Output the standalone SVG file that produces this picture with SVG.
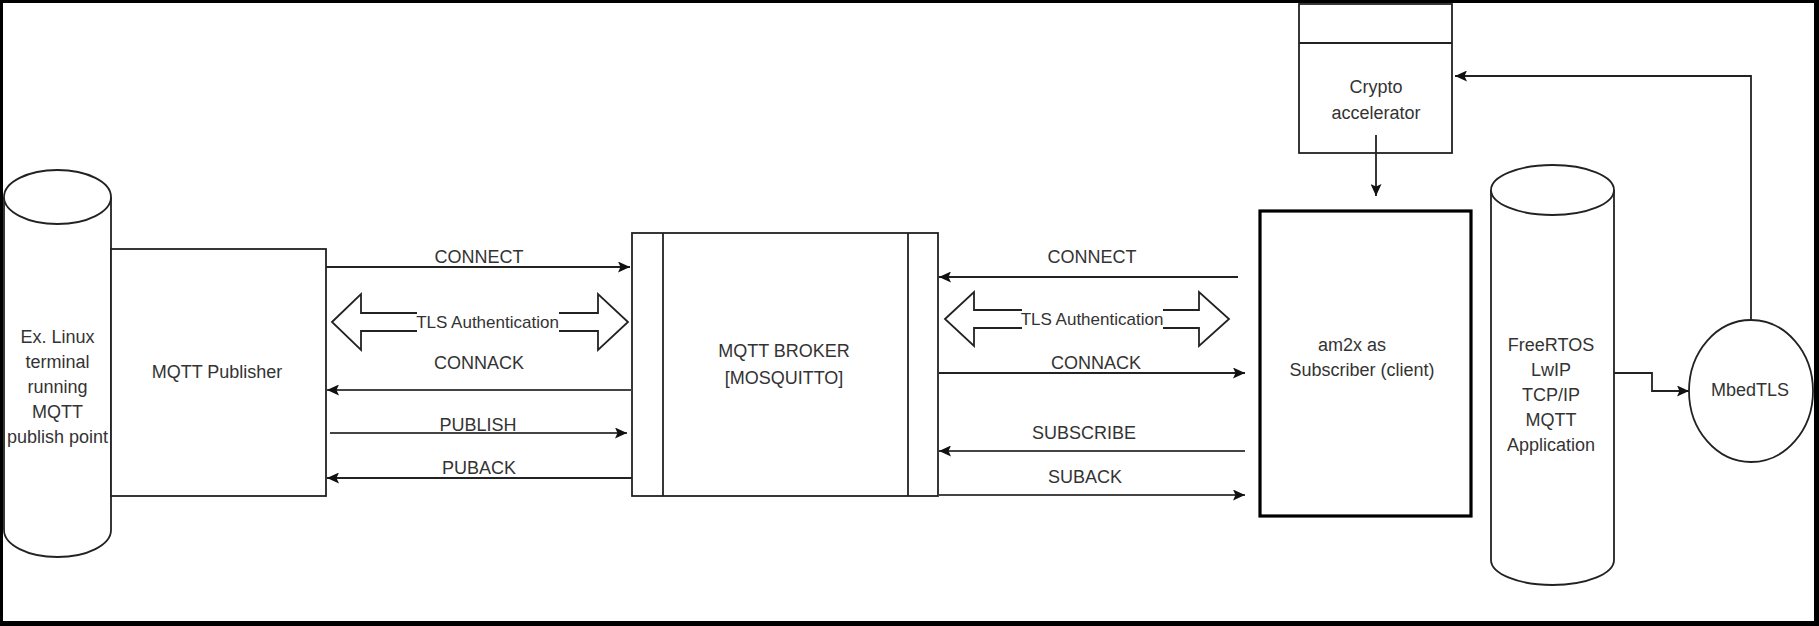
<svg xmlns="http://www.w3.org/2000/svg" width="1819" height="626" viewBox="0 0 1819 626">
<defs>
<style>
.shape{fill:#fff;stroke:#222;stroke-width:1.8}
.thick{fill:#fff;stroke:#000;stroke-width:3.2}
.t{font-family:"Liberation Sans",Arial,Helvetica,sans-serif;font-size:18px;fill:#333;text-anchor:middle}
.ts{font-size:17px}
.c{fill:none;stroke:#222;stroke-width:1.8}
.g{fill:none;stroke:#444;stroke-width:2.2}
</style>
<marker id="ah" viewBox="0 0 12 11" refX="12" refY="5.5" markerWidth="12" markerHeight="11" markerUnits="userSpaceOnUse" orient="auto">
<path d="M0,0 L12,5.5 L0,11 L2.5,5.5 z" fill="#111"/>
</marker>
</defs>
<rect width="1819" height="626" fill="#fff"/>

<g id="linux-terminal">
<path class="shape" d="M4,197 L4,530 A53.5,27 0 0 0 111,530 L111,197"/>
<ellipse class="shape" cx="57.5" cy="197" rx="53.5" ry="27"/>
<text class="t" x="57.5" y="343">Ex. Linux</text>
<text class="t" x="57.5" y="368">terminal</text>
<text class="t" x="57.5" y="393">running</text>
<text class="t" x="57.5" y="418">MQTT</text>
<text class="t" x="57.5" y="443">publish point</text>
</g>

<g id="mqtt-publisher">
<rect class="shape" x="111" y="249" width="215" height="247"/>
<text class="t" x="217" y="378">MQTT Publisher</text>
</g>

<g id="mqtt-broker">
<rect class="shape" x="632" y="233" width="306" height="263"/>
<line class="c" x1="663" y1="233" x2="663" y2="496"/>
<line class="c" x1="908" y1="233" x2="908" y2="496"/>
<text class="t" x="784" y="357">MQTT BROKER</text>
<text class="t" x="784" y="384">[MOSQUITTO]</text>
</g>

<g id="subscriber">
<rect class="thick" x="1260" y="211" width="211" height="305"/>
<text class="t" x="1352" y="351">am2x as</text>
<text class="t" x="1362" y="376">Subscriber (client)</text>
</g>

<g id="crypto-accelerator">
<rect class="shape" x="1299" y="4" width="153" height="149"/>
<line class="c" x1="1299" y1="43" x2="1452" y2="43"/>
<text class="t" x="1376" y="93">Crypto</text>
<text class="t" x="1376" y="119">accelerator</text>
</g>

<g id="freertos-stack">
<path class="shape" d="M1491,190 L1491,560 A61.5,25 0 0 0 1614,560 L1614,190"/>
<ellipse class="shape" cx="1552.5" cy="190" rx="61.5" ry="25"/>
<text class="t" x="1551" y="351">FreeRTOS</text>
<text class="t" x="1551" y="376">LwIP</text>
<text class="t" x="1551" y="401">TCP/IP</text>
<text class="t" x="1551" y="426">MQTT</text>
<text class="t" x="1551" y="451">Application</text>
</g>

<g id="mbedtls">
<ellipse class="shape" cx="1751" cy="391" rx="62" ry="71"/>
<text class="t" x="1750" y="396">MbedTLS</text>
</g>

<g id="tls-left">
<path class="shape" d="M332,322 L361,294 L361,313 L598,313 L598,294 L628,322 L598,350 L598,331 L361,331 L361,350 Z"/>
<rect x="417" y="312" width="142" height="20" fill="#fff"/>
<text class="t ts" x="487.5" y="328">TLS Authentication</text>
</g>

<g id="tls-right">
<path class="shape" d="M945,319 L974,292 L974,310 L1199,310 L1199,292 L1229,319 L1199,346 L1199,328 L974,328 L974,346 Z"/>
<rect x="1022" y="309" width="141" height="20" fill="#fff"/>
<text class="t ts" x="1092" y="325">TLS Authentication</text>
</g>

<g id="connectors">
<line class="c" x1="326" y1="267" x2="630" y2="267" marker-end="url(#ah)"/>
<line class="g" x1="632" y1="390" x2="327" y2="390" marker-end="url(#ah)"/>
<line class="g" x1="330" y1="433" x2="627" y2="433" marker-end="url(#ah)"/>
<line class="c" x1="632" y1="478" x2="327" y2="478" marker-end="url(#ah)"/>
<line class="c" x1="1238" y1="277" x2="939" y2="277" marker-end="url(#ah)"/>
<line class="c" x1="939" y1="373" x2="1245" y2="373" marker-end="url(#ah)"/>
<line class="g" x1="1245" y1="451" x2="939" y2="451" marker-end="url(#ah)"/>
<line class="g" x1="938" y1="495" x2="1245" y2="495" marker-end="url(#ah)"/>
<line class="c" x1="1376" y1="135" x2="1376" y2="196" marker-end="url(#ah)"/>
<path class="c" d="M1751,320 L1751,76 L1455,76" marker-end="url(#ah)"/>
<path class="c" d="M1614,373 L1652,373 L1652,391 L1689,391" marker-end="url(#ah)"/>
<text class="t" x="479" y="263">CONNECT</text>
<text class="t" x="479" y="369">CONNACK</text>
<text class="t" x="478" y="431">PUBLISH</text>
<text class="t" x="479" y="474">PUBACK</text>
<text class="t" x="1092" y="263">CONNECT</text>
<text class="t" x="1096" y="369">CONNACK</text>
<text class="t" x="1084" y="439">SUBSCRIBE</text>
<text class="t" x="1085" y="483">SUBACK</text>
</g>

<g id="frame" fill="#000">
<rect x="0" y="0" width="1819" height="3"/>
<rect x="0" y="0" width="3" height="626"/>
<rect x="1814" y="0" width="5" height="626"/>
<rect x="0" y="621" width="1819" height="5"/>
</g>
</svg>
